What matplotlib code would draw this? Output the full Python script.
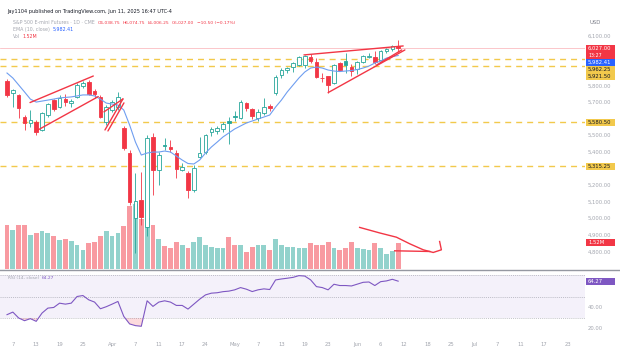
import numpy as np
import pandas as pd
import matplotlib
matplotlib.use("Agg")
import matplotlib.pyplot as plt
from matplotlib.patches import Rectangle
from matplotlib.lines import Line2D

# E-mini S&P 500 daily bars, 6 Mar - 11 Jun 2025
opens = [5829, 5757, 5745, 5612, 5576, 5582, 5534, 5624, 5714, 5672,
         5720, 5696, 5733, 5799, 5823, 5769, 5733, 5582, 5654, 5672,
         5546, 5395, 5004, 5112, 4949, 5492, 5293, 5443, 5431, 5395,
         5293, 5275, 5172, 5371, 5401, 5522, 5530, 5540, 5588, 5618,
         5606, 5696, 5660, 5606, 5636, 5678, 5757, 5865, 5898, 5913,
         5925, 5925, 5973, 5943, 5850, 5859, 5817, 5937, 5950, 5913,
         5901, 5945, 5975, 5975, 5957, 6007, 6020, 6038.75]
highs = [5841, 5781, 5750, 5624, 5654, 5594, 5642, 5696, 5720, 5745,
         5751, 5720, 5817, 5829, 5835, 5781, 5745, 5684, 5714, 5763,
         5558, 5413, 5275, 5281, 5504, 5516, 5401, 5486, 5474, 5413,
         5335, 5287, 5323, 5492, 5510, 5552, 5560, 5582, 5612, 5650,
         5712, 5700, 5668, 5660, 5727, 5690, 5865, 5910, 5915, 5945,
         5980, 5985, 5990, 5970, 5880, 5862, 5930, 5945, 6000, 5930,
         5950, 5985, 5995, 6010, 6015, 6030, 6045, 6074.75]
lows = [5733, 5672, 5606, 5534, 5552, 5504, 5528, 5612, 5648, 5666,
        5678, 5672, 5727, 5787, 5745, 5727, 5606, 5564, 5642, 5654,
        5413, 5082, 4793, 4962, 4895, 5142, 5203, 5413, 5401, 5245,
        5287, 5124, 5160, 5365, 5390, 5498, 5510, 5522, 5450, 5590,
        5600, 5650, 5600, 5590, 5625, 5650, 5745, 5850, 5880, 5885,
        5918, 5910, 5940, 5845, 5820, 5757, 5810, 5890, 5880, 5860,
        5870, 5935, 5965, 5930, 5950, 6000, 6010, 6006.25]
closes = [5745, 5775, 5666, 5576, 5594, 5522, 5636, 5690, 5660, 5727,
          5702, 5708, 5805, 5817, 5751, 5748, 5612, 5672, 5702, 5733,
          5425, 5100, 5105, 5010, 5486, 5293, 5383, 5437, 5419, 5299,
          5311, 5172, 5305, 5395, 5504, 5538, 5545, 5570, 5578, 5612,
          5702, 5666, 5618, 5642, 5672, 5668, 5853, 5895, 5908, 5937,
          5973, 5980, 5950, 5853, 5845, 5805, 5925, 5895, 5925, 5890,
          5943, 5978, 5980, 5945, 6007, 6022, 6037.5, 6027.0]
volume_m = [2.6, 2.3, 2.6, 2.6, 2.0, 2.1, 2.2, 2.1, 1.9, 1.7,
            1.74, 1.66, 1.4, 1.1, 1.5, 1.6, 1.93, 2.24, 1.9, 2.1,
            2.5, 3.7, 3.8, 2.9, 3.0, 2.6, 1.75, 1.35, 1.2, 1.6,
            1.4, 1.2, 1.6, 1.85, 1.4, 1.3, 1.2, 1.2, 1.85, 1.4,
            1.4, 1.0, 1.3, 1.4, 1.4, 1.1, 1.75, 1.4, 1.3, 1.3,
            1.2, 1.2, 1.5, 1.4, 1.4, 1.6, 1.2, 1.1, 1.2, 1.56,
            1.2, 1.15, 1.1, 1.5, 1.2, 0.9, 1.07, 1.52]
ema_vals = [5877, 5847, 5805, 5763, 5720, 5702, 5708, 5714, 5720, 5727,
            5730, 5733, 5739, 5745, 5745, 5739, 5720, 5696, 5690, 5684,
            5654, 5564, 5461, 5383, 5395, 5401, 5401, 5407, 5401, 5377,
            5353, 5332, 5329, 5353, 5395, 5431, 5461, 5492, 5516, 5540,
            5558, 5576, 5588, 5600, 5612, 5624, 5672, 5714, 5763, 5805,
            5847, 5883, 5907, 5913, 5907, 5895, 5889, 5886, 5889, 5892,
            5898, 5907, 5919, 5937, 5949, 5967, 5976, 5982.41]
rsi_vals = [33.1, 35.5, 30.0, 27.5, 29.4, 26.9, 34.6, 39.2, 39.8, 43.8,
            42.9, 43.8, 50.0, 50.9, 46.9, 44.8, 38.6, 40.5, 42.9, 45.4,
            31.5, 24.5, 22.9, 22.3, 46.0, 40.8, 44.8, 46.0, 44.8, 41.7,
            41.7, 38.3, 42.9, 47.5, 51.5, 53.1, 53.5, 54.5, 55.0, 56.2,
            58.3, 56.8, 54.6, 56.2, 57.1, 56.5, 65.4, 66.3, 67.0, 67.8,
            69.4, 69.0, 65.5, 59.2, 58.3, 56.2, 61.4, 60.2, 60.2, 59.8,
            61.5, 63.2, 63.5, 60.2, 63.8, 64.5, 66.0, 64.27]

levels = [5962.25, 5921.50, 5580.50, 5315.25]
last_price = 6027.00
holidays = ["2025-04-18", "2025-05-26", "2025-06-19"]
tick_days = ["2025-03-07", "2025-03-13", "2025-03-19", "2025-03-25", "2025-04-01",
             "2025-04-07", "2025-04-11", "2025-04-17", "2025-04-24", "2025-05-01",
             "2025-05-07", "2025-05-13", "2025-05-19", "2025-05-23", "2025-06-02",
             "2025-06-06", "2025-06-12", "2025-06-18", "2025-06-25", "2025-07-01",
             "2025-07-07", "2025-07-11", "2025-07-17", "2025-07-23"]
tick_text = ["7", "13", "19", "25", "Apr", "7", "11", "17", "24", "May",
             "7", "13", "19", "23", "Jun", "6", "12", "18", "25", "Jul",
             "7", "11", "17", "23"]
price_ticks = [4800, 4900, 5000, 5100, 5200, 5300, 5400, 5500,
               5600, 5700, 5800, 5900, 6000, 6100]
rsi_ticks = [20, 40, 60]

# hand-drawn pattern lines: (bar, price) pairs
channel_up = [(3.94, 5699), (14.78, 5859)]
channel_lo = [(4.79, 5524), (15.63, 5735)]
flag_a = [(16.78, 5534), (19.86, 5721)]
flag_b = [(16.61, 5643), (19.86, 5721)]
flag_c = [(17.29, 5528), (20.03, 5697)]
wedge_up = [(50.86, 5986), (67.86, 6040)]
wedge_lo = [(55.0, 5759), (68.15, 6016)]
wedge_in = [(63.3, 5925), (67.6, 6016)]
scribble_x = [60.4, 63.9, 66.7, 69.0, 71.3, 73.0, 74.4, 74.1]
scribble_p = [4947, 4913, 4888, 4848, 4812, 4796, 4812, 4862]
stroke_x = [66.4, 72.4]
stroke_p = [4806, 4802]

UP = "#26a69a"
DOWN = "#f23645"
GOLD = "#f2c94c"
GREY = "#9598a1"
LABEL = "#a3a6af"
W, H = 620, 350


def fx(px):
    return px / W


def fy(px):
    return 1 - px / H


days = pd.bdate_range("2025-03-06", "2025-07-25")
days = days[~days.isin(pd.to_datetime(holidays))]
n = len(closes)
xs = np.arange(n)
tick_pos = [days.get_loc(pd.Timestamp(d)) for d in tick_days]

fig = plt.figure(figsize=(6.2, 3.5), dpi=100)
fig.patch.set_facecolor("white")

ax = fig.add_axes([0, fy(269), fx(585), fy(16) - fy(269)])
rax = fig.add_axes([0, fy(337), fx(585), fy(271) - fy(337)])
vax = ax.twinx()
ax.set_zorder(2)
vax.set_zorder(1)
ax.patch.set_visible(False)

xlim = (-1.2, 99)
ax.set_xlim(*xlim)
ax.set_ylim(4696.4, 6220.5)
vax.set_ylim(0, 14.79)
rax.set_xlim(*xlim)
rax.set_ylim(12.33, 73.72)

for a in (ax, vax, rax):
    for s in a.spines.values():
        s.set_visible(False)

# volume
vcol = [UP if c >= o else DOWN for o, c in zip(opens, closes)]
vax.bar(xs, volume_m, width=0.82, color=vcol, alpha=0.5, linewidth=0)
vax.set_yticks([])

# levels and last price
for lv in levels:
    ax.axhline(lv, color=GOLD, lw=1.0, dashes=(4.3, 3.6), zorder=1)
ax.axhline(last_price, color=DOWN, lw=0.5, alpha=0.4, zorder=1)

# hollow candles
bw = 0.62
for i in range(n):
    o, h, l, c = opens[i], highs[i], lows[i], closes[i]
    prev = closes[i - 1] if i else o
    col = UP if c >= prev else DOWN
    hollow = c > o
    top, bot = max(o, c), min(o, c)
    body = max(top - bot, 4)
    ax.add_patch(Rectangle((i - bw / 2, bot), bw, body,
                           facecolor="white" if hollow else col,
                           edgecolor=col, lw=0.6, zorder=3))
    ax.vlines(i, bot + body, h, color=col, lw=0.6, zorder=3)
    ax.vlines(i, l, bot, color=col, lw=0.6, zorder=3)

ax.plot(xs, ema_vals, color="#6f9ef0", lw=0.8, zorder=4)

for seg in (channel_up, channel_lo, flag_a, flag_b, flag_c,
            wedge_up, wedge_lo, wedge_in):
    (x0, p0), (x1, p1) = seg
    ax.plot([x0, x1], [p0, p1], color=DOWN, lw=1.0, zorder=5,
            solid_capstyle="round")
ax.plot(scribble_x, scribble_p, color=DOWN, lw=1.0, zorder=5)
ax.plot(stroke_x, stroke_p, color=DOWN, lw=1.0, zorder=5)
ax.set_xticks([])

# RSI pane
rax.fill_between(xlim, 30, 70, color="#7e57c2", alpha=0.08, lw=0)
for lv in (70, 50, 30):
    rax.axhline(lv, color="#787b86", lw=0.5, alpha=0.6, dashes=(1.5, 1.5))
rsi = np.array(rsi_vals)
rax.fill_between(xs, rsi, 30, where=rsi < 30, interpolate=True,
                 color=DOWN, alpha=0.18, lw=0)
rax.plot(xs, rsi, color="#7e57c2", lw=0.8)
rax.set_xticks(tick_pos)
rax.set_xticklabels(tick_text)
rax.tick_params(axis="x", length=0, pad=3.5, labelsize=3.8, labelcolor=LABEL)

# pane separator
fig.add_artist(Line2D([0, 1], [fy(270), fy(270)], transform=fig.transFigure,
                      color=GREY, lw=1.0))


def px_from_top(axis, val):
    return H - axis.transData.transform((0, val))[1]


def scale_box(top, h, fc, lines, tc="white"):
    fig.add_artist(Rectangle((fx(586), fy(top + h)), fx(29), h / H,
                             transform=fig.transFigure, facecolor=fc,
                             edgecolor="none", zorder=5))
    step = h / len(lines)
    for k, (s, size) in enumerate(lines):
        fig.text(fx(588), fy(top + step * (k + 0.5)), s, fontsize=size,
                 color=tc, va="center", ha="left", zorder=6)
    return top, top + h


# price scale markers, pushed down where they collide
markers = [(last_price, DOWN, "white", [(f"{last_price:,.2f}", 3.8), ("13:27", 3.4)]),
           (ema_vals[-1], "#2962ff", "white", [(f"{ema_vals[-1]:,.2f}", 3.8)])]
markers += [(lv, GOLD, "#131722", [(f"{lv:,.2f}", 3.8)]) for lv in levels]
boxes = []
floor = -1e9
for val, fc, tc, lines in markers:
    h = 7 * len(lines)
    top = max(px_from_top(ax, val) - 3.5, floor)
    boxes.append(scale_box(top, h, fc, lines, tc))
    floor = top + h

boxes.append(scale_box(px_from_top(vax, volume_m[-1]) - 3.5, 7, DOWN,
                       [(f"{volume_m[-1]:.2f}M", 3.8)]))
rsi_box = scale_box(px_from_top(rax, rsi_vals[-1]) - 3.5, 7, "#7e57c2",
                    [(f"{rsi_vals[-1]:.2f}", 3.8)])


def scale_labels(axis, values, covered):
    # axis labels hidden behind a marker box are skipped
    for v in values:
        c = px_from_top(axis, v)
        if any(c + 2.5 > t and c - 2.5 < b for t, b in covered):
            continue
        fig.text(fx(588), fy(c), f"{v:,.2f}", fontsize=3.8, color=LABEL,
                 va="center", ha="left")


scale_labels(ax, price_ticks, boxes)
scale_labels(rax, rsi_ticks, [rsi_box])
ax.set_yticks([])
rax.set_yticks([])

fig.text(fx(589), fy(23), "USD", fontsize=3.8, color="#787b86", va="center")


def text_row(x, y, parts):
    r = fig.canvas.get_renderer()
    for s, c, size in parts:
        t = fig.text(fx(x), fy(y), s, fontsize=size, color=c, va="center", ha="left")
        x += t.get_window_extent(r).width + 2.5


text_row(7, 11, [("Jay1104 published on TradingView.com, Jun 11, 2025 16:47 UTC-4", "#131722", 3.6)])
text_row(13, 23, [("S&P 500 E-mini Futures · 1D · CME", LABEL, 3.4),
                  ("O6,038.75", DOWN, 3.2), ("H6,074.75", DOWN, 3.2),
                  ("L6,006.25", DOWN, 3.2), ("C6,027.00", DOWN, 3.2),
                  ("−10.50 (−0.17%)", DOWN, 3.2)])
text_row(13, 29.5, [("EMA (10, close)", LABEL, 3.4), ("5,982.41", "#2962ff", 3.4)])
text_row(13, 36, [("Vol", LABEL, 3.4), ("1.52M", DOWN, 3.4)])
text_row(8, 278, [("RSI (14, close)", LABEL, 3.2), ("64.27", "#7e57c2", 3.2)])

fig.savefig("out.png", dpi=100, facecolor="white")
